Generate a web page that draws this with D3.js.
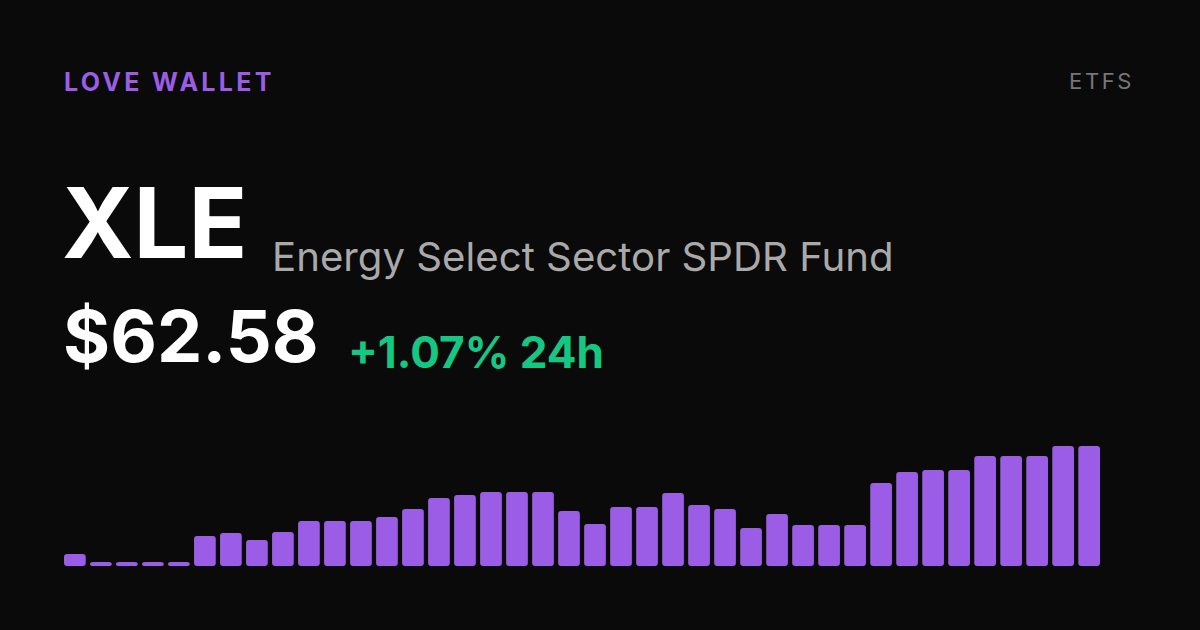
<!DOCTYPE html>
<html><head><meta charset="utf-8">
<script src="https://cdn.jsdelivr.net/npm/d3@7"></script>
<style>html,body{margin:0;padding:0;background:#0a0a0a;}svg{display:block;}</style>
</head><body>
<svg id="c" width="1200" height="630"></svg>
<script>
const brand = "LOVE WALLET";
const category = "ETFS";
const ticker = "XLE";
const fundName = "Energy Select Sector SPDR Fund";
const price = "$62.58";
const change = "+1.07% 24h";
// relative bar heights (0–120)
const periods = d3.range(1, 41);
const values = [12,4,4,4,4,30,33,26,34,45,45,45,49,57,68,71,74,74,74,55,
                42,59,59,73,61,57,38,52,41,41,41,83,94,96,96,110,110,110,120,120];

const svg = d3.select("#c");
svg.append("rect").attr("width",1200).attr("height",630).attr("fill","#0a0a0a");

const font = "Inter, 'Noto Sans', sans-serif";
svg.append("text").attr("x",64).attr("y",91).text(brand)
  .attr("font-family",font).attr("font-size",25).attr("font-weight",700)
  .attr("letter-spacing",3.3).attr("fill","#9b5de5");
svg.append("text").attr("x",1134).attr("y",89).attr("text-anchor","end").text(category)
  .attr("font-family",font).attr("font-size",22).attr("font-weight",400)
  .attr("letter-spacing",2.6).attr("fill","#777777");
svg.append("text").attr("x",62).attr("y",258).text(ticker)
  .attr("font-family",font).attr("font-size",97).attr("font-weight",700).attr("fill","#ffffff");
svg.append("text").attr("x",272).attr("y",271).text(fundName)
  .attr("font-family",font).attr("font-size",40.2).attr("font-weight",400).attr("fill","#a9a9a9");
svg.append("text").attr("x",63).attr("y",362).text(price)
  .attr("font-family",font).attr("font-size",72).attr("font-weight",700).attr("fill","#ffffff");
svg.append("text").attr("x",348).attr("y",368).text(change)
  .attr("font-family",font).attr("font-size",44).attr("font-weight",700).attr("fill","#16c784");

const x = d3.scaleBand().domain(periods).range([64,1100]).paddingInner(0.165).paddingOuter(0);
const baseline = 566;
const y = d3.scaleLinear().domain([0,120]).range([baseline, baseline-120]);
svg.append("g").selectAll("rect").data(values).join("rect")
  .attr("x",(d,i)=>x(periods[i]))
  .attr("width",x.bandwidth())
  .attr("y",d=>y(d))
  .attr("height",d=>baseline-y(d))
  .attr("rx",3).attr("ry",3)
  .attr("fill","#9b5de5");
</script>
</body></html>
